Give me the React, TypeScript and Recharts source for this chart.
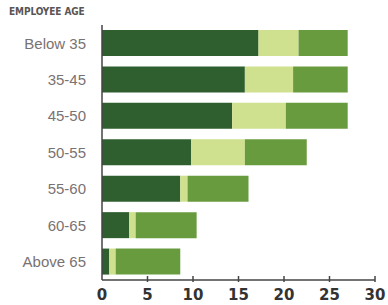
import { BarChart, Bar, XAxis, YAxis } from "recharts";

const ageGroups = ["Below 35", "35-45", "45-50", "50-55", "55-60", "60-65", "Above 65"];
const darkValues = [17.2, 15.7, 14.3, 9.8, 8.6, 3.0, 0.8];
const lightValues = [4.4, 5.3, 5.9, 5.9, 0.8, 0.7, 0.7];
const midValues = [5.4, 6.0, 6.8, 6.8, 6.7, 6.7, 7.1];
const xTicks = [0, 5, 10, 15, 20, 25, 30];

const data = ageGroups.map((age, i) => ({
  age,
  dark: darkValues[i],
  light: lightValues[i],
  mid: midValues[i],
}));

const XTick = (props: any) => {
  const { x, y, payload } = props;
  return (
    <g>
      {payload.value !== 0 && (
        <line x1={x} y1={y - 6} x2={x} y2={y} stroke="#444" strokeWidth={1.5} />
      )}
      <text
        x={x}
        y={y + 18}
        textAnchor="middle"
        fill="#333"
        fontSize={15}
        fontWeight="bold"
        fontFamily="'DejaVu Sans', sans-serif"
      >
        {payload.value}
      </text>
    </g>
  );
};

export default function App() {
  return (
    <div style={{ position: "absolute", left: 0, top: 0, width: 388, height: 305, background: "#fff" }}>
      {/* Title */}
      <div
        style={{
          position: "absolute",
          left: 9,
          top: 6,
          fontFamily: "'DejaVu Sans Condensed', 'DejaVu Sans', sans-serif",
          fontWeight: "bold",
          fontSize: 10,
          color: "#5a5555",
          letterSpacing: -0.1,
        }}
      >
        EMPLOYEE AGE
      </div>
      <BarChart
        width={388}
        height={305}
        data={data}
        layout="vertical"
        margin={{ top: 25, right: 13, bottom: 0, left: 0 }}
        barSize={26}
      >
        <XAxis
          type="number"
          domain={[0, 30]}
          ticks={xTicks}
          tickSize={0}
          tick={<XTick />}
          axisLine={{ stroke: "#444", strokeWidth: 1.5 }}
          height={25}
        />
        <YAxis
          type="category"
          dataKey="age"
          width={102}
          tickSize={0}
          tickMargin={16}
          axisLine={{ stroke: "#444", strokeWidth: 1.5 }}
          tick={{ fill: "#7a7272", fontSize: 15, fontFamily: "'Liberation Sans', sans-serif" }}
        />
        <Bar dataKey="dark" stackId="a" fill="#2f5f2e" isAnimationActive={false} />
        <Bar dataKey="light" stackId="a" fill="#cfe08f" isAnimationActive={false} />
        <Bar dataKey="mid" stackId="a" fill="#689b3e" isAnimationActive={false} />
      </BarChart>
    </div>
  );
}
